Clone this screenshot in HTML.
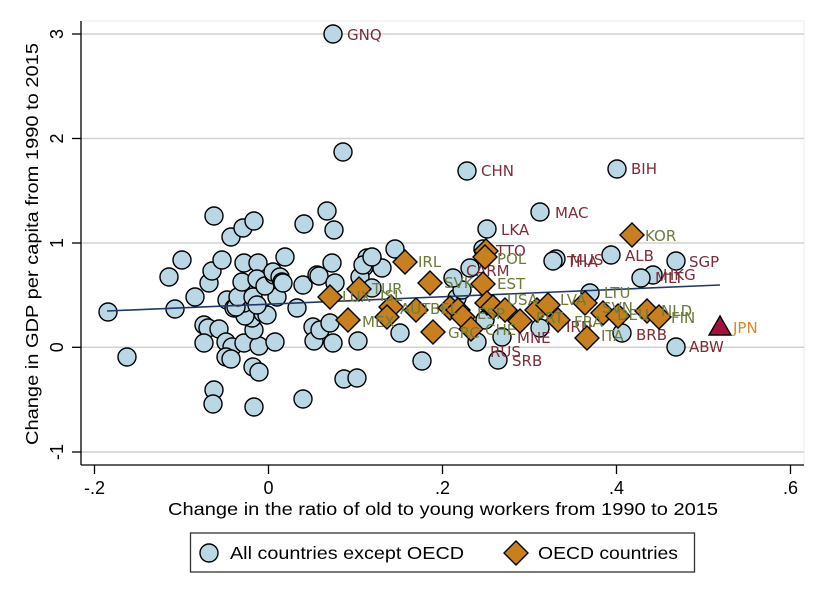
<!DOCTYPE html>
<html><head><meta charset="utf-8"><style>
html,body{margin:0;padding:0;background:#fff;}
svg{display:block;}
.ax{font-family:"Liberation Sans",sans-serif;fill:#000;}
.lm{font-family:"DejaVu Sans","Liberation Sans",sans-serif;font-size:15px;fill:#7e2c38;}
.lo{font-family:"DejaVu Sans","Liberation Sans",sans-serif;font-size:15px;fill:#6b7b3a;}
</style></head><body>
<svg width="825" height="600" viewBox="0 0 825 600" xmlns="http://www.w3.org/2000/svg">
<rect x="0" y="0" width="825" height="600" fill="#ffffff"/>
<rect x="81" y="21" width="723" height="444" fill="#ffffff" stroke="#e8eeee" stroke-width="1"/>
<g stroke="#d2d2d2" stroke-width="1.5">
<line x1="81" y1="34" x2="804" y2="34"/>
<line x1="81" y1="138.5" x2="804" y2="138.5"/>
<line x1="81" y1="243" x2="804" y2="243"/>
<line x1="81" y1="347.3" x2="804" y2="347.3"/>
<line x1="81" y1="452" x2="804" y2="452"/>
</g>
<g stroke="#000" stroke-width="1.3">
<line x1="81" y1="21" x2="81" y2="465"/>
<line x1="81" y1="465" x2="804" y2="465"/>
<line x1="72" y1="34" x2="81" y2="34"/>
<line x1="72" y1="138.5" x2="81" y2="138.5"/>
<line x1="72" y1="243" x2="81" y2="243"/>
<line x1="72" y1="347.3" x2="81" y2="347.3"/>
<line x1="72" y1="452" x2="81" y2="452"/>
<line x1="94.5" y1="465" x2="94.5" y2="474"/>
<line x1="268.5" y1="465" x2="268.5" y2="474"/>
<line x1="442.5" y1="465" x2="442.5" y2="474"/>
<line x1="616.5" y1="465" x2="616.5" y2="474"/>
<line x1="790.5" y1="465" x2="790.5" y2="474"/>
</g>
<g class="ax" font-size="18" text-anchor="middle">
<text x="94.5" y="494">-.2</text>
<text x="268.5" y="494">0</text>
<text x="442.5" y="494">.2</text>
<text x="616.5" y="494">.4</text>
<text x="790.5" y="494">.6</text>
<text transform="translate(63,34) rotate(-90)">3</text>
<text transform="translate(63,138.5) rotate(-90)">2</text>
<text transform="translate(63,243) rotate(-90)">1</text>
<text transform="translate(63,347.3) rotate(-90)">0</text>
<text transform="translate(63,452) rotate(-90)">-1</text>
</g>
<text class="ax" x="168" y="515" font-size="17.5" textLength="550" lengthAdjust="spacingAndGlyphs">Change in the ratio of old to young workers from 1990 to 2015</text>
<text class="ax" transform="translate(38,445) rotate(-90)" font-size="17.5" textLength="402" lengthAdjust="spacingAndGlyphs">Change in GDP per capita from 1990 to 2015</text>

<g fill="#b9d7e4" stroke="#000" stroke-width="1.4">
<circle cx="108" cy="312" r="9"/><circle cx="127" cy="357" r="9"/><circle cx="169" cy="277" r="9"/><circle cx="182" cy="260" r="9"/><circle cx="175" cy="309" r="9"/><circle cx="195" cy="297" r="9"/>
<circle cx="214" cy="216" r="9"/><circle cx="231" cy="237" r="9"/><circle cx="243" cy="228" r="9"/><circle cx="254" cy="221" r="9"/><circle cx="304" cy="224" r="9"/><circle cx="327" cy="211" r="9"/><circle cx="334" cy="230" r="9"/><circle cx="343" cy="152" r="9"/>
<circle cx="209" cy="283" r="9"/><circle cx="212" cy="271" r="9"/><circle cx="222" cy="260" r="9"/>
<circle cx="204" cy="325" r="9"/><circle cx="208" cy="328" r="9"/><circle cx="219" cy="329" r="9"/><circle cx="204" cy="343" r="9"/><circle cx="226" cy="342" r="9"/><circle cx="232" cy="347" r="9"/><circle cx="226" cy="357" r="9"/><circle cx="231" cy="359" r="9"/>
<circle cx="214" cy="390" r="9"/><circle cx="213" cy="404" r="9"/><circle cx="254" cy="407" r="9"/><circle cx="303" cy="399" r="9"/>
<circle cx="253" cy="367" r="9"/><circle cx="259" cy="372" r="9"/>
<circle cx="244" cy="343" r="9"/><circle cx="259" cy="346" r="9"/><circle cx="275" cy="342" r="9"/>
<circle cx="254" cy="330" r="9"/><circle cx="252" cy="318" r="9"/><circle cx="263" cy="313" r="9"/><circle cx="245" cy="316" r="9"/><circle cx="267" cy="315" r="9"/>
<circle cx="244" cy="303" r="9"/><circle cx="227" cy="300" r="9"/><circle cx="234" cy="308" r="9"/><circle cx="236" cy="307" r="9"/>
<circle cx="238" cy="297" r="9"/><circle cx="253" cy="297" r="9"/><circle cx="277" cy="297" r="9"/><circle cx="257" cy="305" r="9"/>
<circle cx="242" cy="282" r="9"/><circle cx="244" cy="263" r="9"/><circle cx="258" cy="263" r="9"/><circle cx="257" cy="279" r="9"/><circle cx="265" cy="286" r="9"/><circle cx="274" cy="275" r="9"/><circle cx="273" cy="272" r="9"/><circle cx="280" cy="277" r="9"/><circle cx="282" cy="282" r="9"/><circle cx="283" cy="283" r="9"/><circle cx="285" cy="257" r="9"/>
<circle cx="303" cy="285" r="9"/><circle cx="297" cy="308" r="9"/><circle cx="313" cy="327" r="9"/><circle cx="317" cy="275" r="9"/>
<circle cx="319" cy="276" r="9"/><circle cx="332" cy="263" r="9"/><circle cx="335" cy="283" r="9"/>
<circle cx="314" cy="341" r="9"/><circle cx="320" cy="330" r="9"/><circle cx="330" cy="323" r="9"/><circle cx="333" cy="343" r="9"/><circle cx="358" cy="341" r="9"/>
<circle cx="344" cy="379" r="9"/><circle cx="357" cy="378" r="9"/>
<circle cx="367" cy="258" r="9"/><circle cx="373" cy="262" r="9"/><circle cx="364" cy="267" r="9"/><circle cx="360" cy="277" r="9"/><circle cx="372" cy="288" r="9"/>
<circle cx="363" cy="265" r="9"/><circle cx="382" cy="268" r="9"/><circle cx="372" cy="257" r="9"/><circle cx="395" cy="249" r="9"/>
<circle cx="400" cy="333" r="9"/><circle cx="422" cy="361" r="9"/>
<circle cx="457" cy="298" r="9"/><circle cx="462" cy="290" r="9"/><circle cx="453" cy="278" r="9"/><circle cx="470" cy="268" r="9"/>
<circle cx="485" cy="320" r="9"/><circle cx="540" cy="328" r="9"/>
<circle cx="467" cy="171" r="9"/><circle cx="487" cy="229" r="9"/><circle cx="483" cy="249" r="9"/><circle cx="540" cy="212" r="9"/><circle cx="556" cy="259" r="9"/><circle cx="553" cy="261" r="9"/>
<circle cx="617" cy="169" r="9"/><circle cx="611" cy="255" r="9"/><circle cx="676" cy="261" r="9"/><circle cx="653" cy="275" r="9"/><circle cx="641" cy="278" r="9"/>
<circle cx="590" cy="293" r="9"/><circle cx="622" cy="333" r="9"/><circle cx="676" cy="347" r="9"/>
<circle cx="477" cy="342" r="9"/><circle cx="498" cy="360" r="9"/><circle cx="502" cy="337" r="9"/>
<circle cx="333" cy="34" r="9"/>
</g>
<g class="lm">
<text x="347" y="40">GNQ</text>
<text x="481" y="176">CHN</text>
<text x="631" y="174">BIH</text>
<text x="555" y="218">MAC</text>
<text x="501" y="235">LKA</text>
<text x="496" y="256">TTO</text>
<text x="466" y="276">C</text>
<text x="476" y="276">ARM</text>
<text x="567" y="267">THA</text>
<text x="570" y="265">MUS</text>
<text x="625" y="261">ALB</text>
<text x="689" y="267">SGP</text>
<text x="655" y="283">MLT</text>
<text x="663" y="280">HKG</text>
<text x="636" y="340">BRB</text>
<text x="689" y="352">ABW</text>
<text x="512" y="366">SRB</text>
<text x="490" y="357">RUS</text>
<text x="517" y="343">MNE</text>
<text x="566" y="332">IRN</text>
</g>
<line x1="107" y1="311" x2="720" y2="285" stroke="#1f3a66" stroke-width="1.6"/>
<g fill="#c8801e" stroke="#000" stroke-width="1.4">
<path d="M330 285 L342 297 L330 309 L318 297Z"/>
<path d="M359 277 L371 289 L359 301 L347 289Z"/>
<path d="M348 308 L360 320 L348 332 L336 320Z"/>
<path d="M391 295 L403 307 L391 319 L379 307Z"/>
<path d="M387 305 L399 317 L387 329 L375 317Z"/>
<path d="M405 250 L417 262 L405 274 L393 262Z"/>
<path d="M416 298 L428 310 L416 322 L404 310Z"/>
<path d="M430 271 L442 283 L430 295 L418 283Z"/>
<path d="M433 320 L445 332 L433 344 L421 332Z"/>
<path d="M450 296 L462 308 L450 320 L438 308Z"/>
<path d="M458 298 L470 310 L458 322 L446 310Z"/>
<path d="M463 305 L475 317 L463 329 L451 317Z"/>
<path d="M471 317 L483 329 L471 341 L459 329Z"/>
<path d="M483 272 L495 284 L483 296 L471 284Z"/>
<path d="M486 239 L498 251 L486 263 L474 251Z"/>
<path d="M485 245 L497 257 L485 269 L473 257Z"/>
<path d="M487 291 L499 303 L487 315 L475 303Z"/>
<path d="M493 295 L505 307 L493 319 L481 307Z"/>
<path d="M505 298 L517 310 L505 322 L493 310Z"/>
<path d="M520 309 L532 321 L520 333 L508 321Z"/>
<path d="M537 298 L549 310 L537 322 L525 310Z"/>
<path d="M548 293 L560 305 L548 317 L536 305Z"/>
<path d="M558 308 L570 320 L558 332 L546 320Z"/>
<path d="M585 291 L597 303 L585 315 L573 303Z"/>
<path d="M603 301 L615 313 L603 325 L591 313Z"/>
<path d="M618 304 L630 316 L618 328 L606 316Z"/>
<path d="M587 326 L599 338 L587 350 L575 338Z"/>
<path d="M632 223 L644 235 L632 247 L620 235Z"/>
<path d="M647 299 L659 311 L647 323 L635 311Z"/>
<path d="M659 305 L671 317 L659 329 L647 317Z"/>
</g>
<g class="lo">
<text x="645" y="241">KOR</text>
<text x="418" y="267">IRL</text>
<text x="497" y="264">POL</text>
<text x="444" y="288">SVK</text>
<text x="497" y="289">EST</text>
<text x="372" y="294">TUR</text>
<text x="362" y="327">MEX</text>
<text x="448" y="338">GRC</text>
<text x="485" y="335">CHE</text>
<text x="602" y="313">SVN</text>
<text x="661" y="316">NLD</text>
<text x="671" y="323">FIN</text>
<text x="601" y="341">ITA</text>
<text x="574" y="327">FRA</text>
<text x="617" y="320">DEU</text>
<text x="507" y="305">USA</text>
<text x="536" y="323">PRT</text>
<text x="477" y="319">ESP</text>
<text x="560" y="305">LVA</text>
<text x="604" y="298">LTU</text>
<text x="342" y="302">LUX</text>
<text x="380" y="301">ISL</text>
<text x="400" y="314">AUT</text>
<text x="430" y="314">BEL</text>
</g>
<path d="M720 316 L731 335 L709 335Z" fill="#a50f3c" stroke="#000" stroke-width="1.4"/>
<text x="733" y="333" font-family="DejaVu Sans, Liberation Sans, sans-serif" font-size="15" fill="#d4882a">JPN</text>

<rect x="190.5" y="533" width="504" height="39" fill="#fff" stroke="#333" stroke-width="1.3"/>
<circle cx="209" cy="553" r="9" fill="#b9d7e4" stroke="#000" stroke-width="1.4"/>
<text class="ax" x="230" y="559" font-size="17.5" textLength="234" lengthAdjust="spacingAndGlyphs">All countries except OECD</text>
<path d="M516 541 L528 553 L516 565 L504 553Z" fill="#c8801e" stroke="#000" stroke-width="1.4"/>
<text class="ax" x="538" y="559" font-size="17.5" textLength="140" lengthAdjust="spacingAndGlyphs">OECD countries</text>
</svg>
</body></html>
